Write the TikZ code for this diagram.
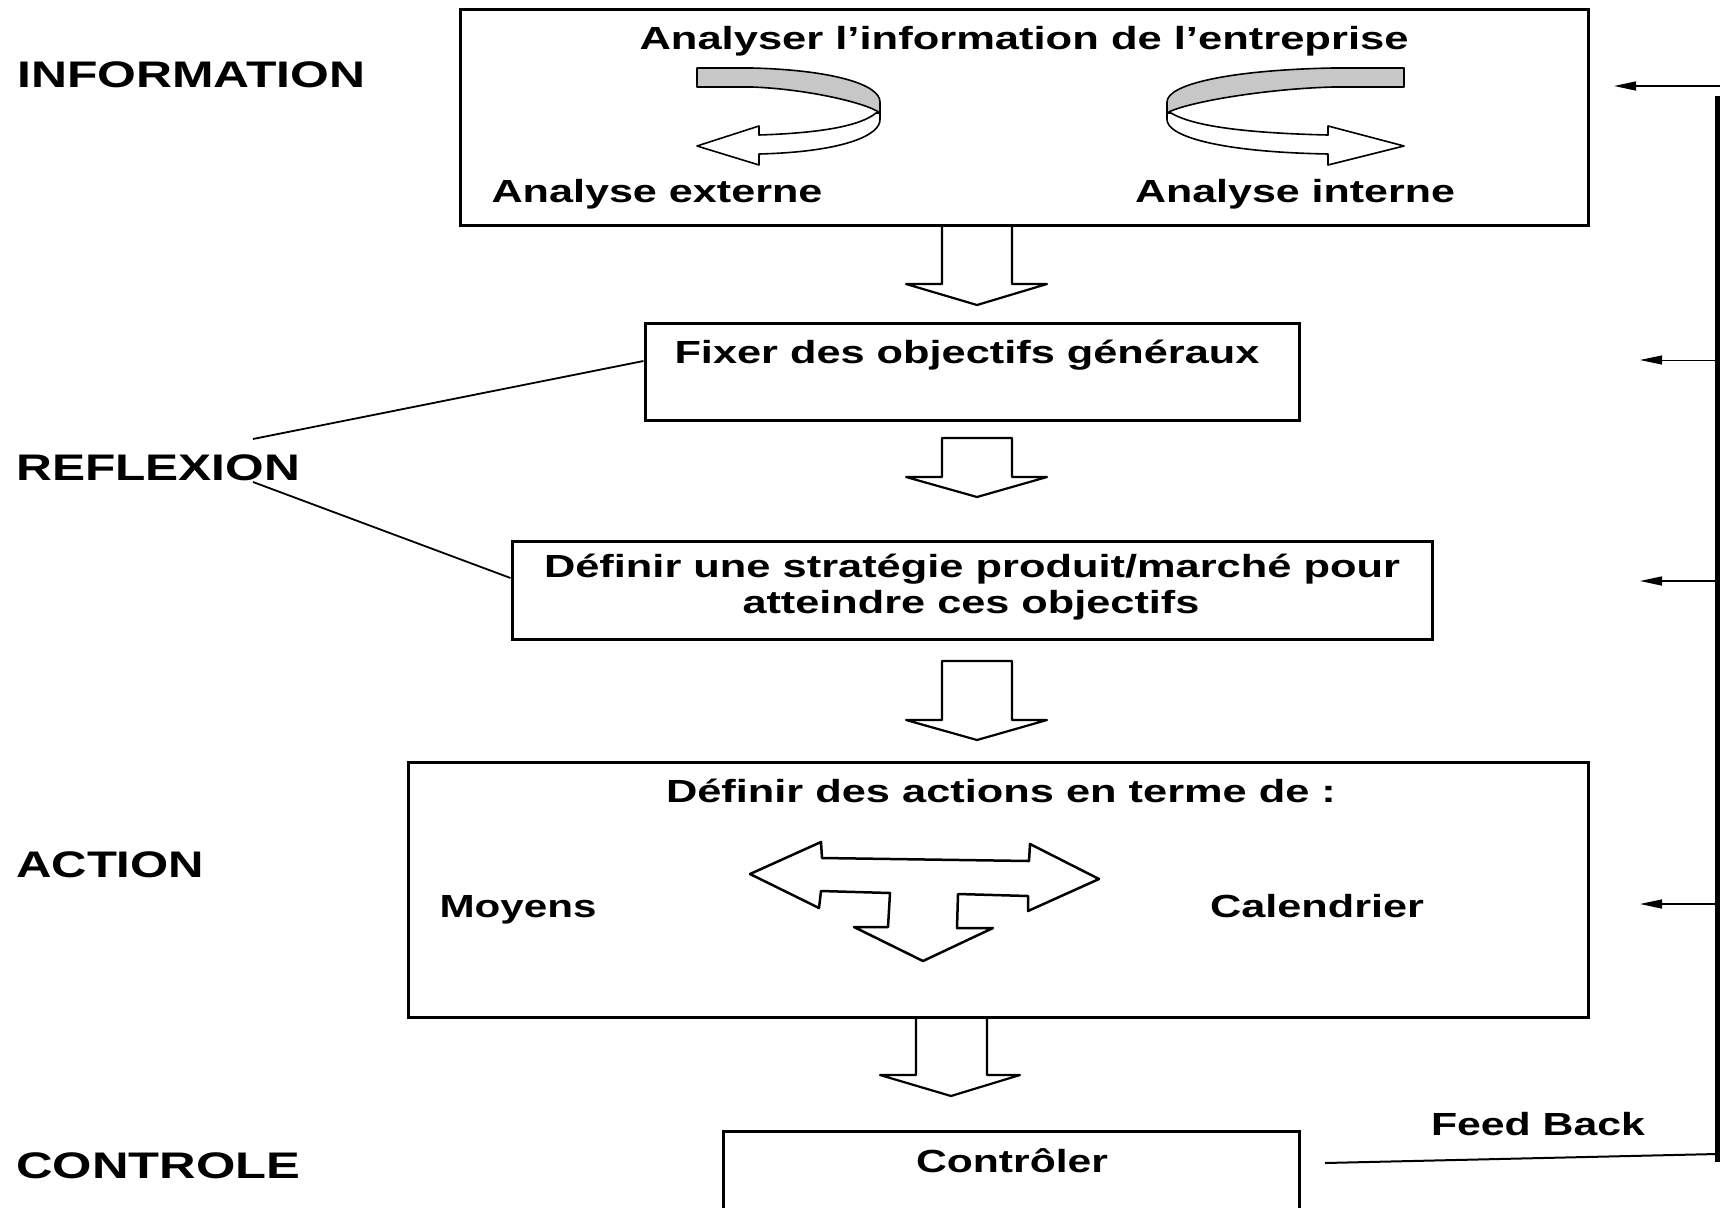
\documentclass[tikz,border=0pt]{standalone}
\usepackage{fontspec}
\setmainfont{Liberation Sans}
\usepackage{graphicx}
\usetikzlibrary{arrows.meta}

% stretch a text horizontally to a given width (in pt), keeping its height
\newsavebox\fitbox
\newlength\fitlen
\newcommand\fitto[2]{\sbox\fitbox{#2}\setlength\fitlen{\wd\fitbox}%
  \pgfmathsetmacro\fitfac{#1/\fitlen}\scalebox{\fitfac}[1]{\usebox\fitbox}}

\newcommand\btfont{\fontsize{32}{36}\selectfont\bfseries}
\newcommand\lbfont{\fontsize{37}{40}\selectfont\bfseries}

\definecolor{ribgray}{gray}{0.78}

\tikzset{
  box/.style={draw, line width=3pt, inner sep=0pt},
  btxt/.style={inner sep=0pt, anchor=base, font=\btfont},
  ltxt/.style={inner sep=0pt, anchor=base west, font=\lbfont},
  barrow/.style={draw, line width=2.2pt, line join=round},
  link/.style={line width=1.8pt},
  fbarrow/.style={line width=1.5pt, -{Triangle[length=22pt,width=9pt]}},
  ribline/.style={line width=1.6pt, line join=round},
  % twisted ribbon arrow: #1 = total length, #2 = head length
  pics/ribbon/.style 2 args={code={
    \draw[ribline, fill=ribgray] (-#1,68) -- ({-0.7*#1},68)
      .. controls ({-0.27*#1},70) and (0,84) .. (0,102) -- (0,113)
      .. controls ({-0.07*#1},103) and ({-0.4*#1},89) .. ({-0.7*#1},87)
      -- (-#1,87) -- cycle;
    \draw[ribline, fill=white] (0,113) -- (0,119)
      .. controls (1,136) and ({-0.216*#1},152) .. ({-#1+#2},154)
      -- ({-#1+#2},165) -- (-#1,146) -- ({-#1+#2},126) -- ({-#1+#2},135)
      .. controls ({-0.324*#1},133) and ({-0.108*#1},126) .. (-4,113) -- cycle;
  }},
}

\begin{document}
\begin{tikzpicture}[x=1pt,y=-1pt]
\useasboundingbox[fill=white] (0,0) rectangle (1731,1207);
\clip (0,0) rectangle (1731,1207);

% hollow block arrows between the stages
\draw[barrow] (942,225) -- (942,284) -- (906,284) -- (977,305) -- (1047,284) -- (1012,284) -- (1012,225);
\draw[barrow] (942,438) -- (942,477) -- (906,477) -- (977,497) -- (1047,477) -- (1012,477) -- (1012,438) -- cycle;
\draw[barrow] (942,661) -- (942,720) -- (906,720) -- (977,740) -- (1047,720) -- (1012,720) -- (1012,661) -- cycle;
\draw[barrow] (916,1017) -- (916,1075) -- (880,1075) -- (951,1096) -- (1020,1075) -- (987,1075) -- (987,1017);

% stage boxes
\node[box, minimum width=1128pt, minimum height=215pt] (b1) at (1024,117.5) {};
\node[box, minimum width=654pt, minimum height=97pt] (b2) at (972,371.5) {};
\node[box, minimum width=920pt, minimum height=98pt] (b3) at (972,590) {};
\node[box, minimum width=1180pt, minimum height=255pt] (b4) at (998,889.5) {};
\node[box, minimum width=576pt, minimum height=119pt] (b5) at (1011,1190.5) {};

% texts in the boxes
\node[btxt] (tInfo) at (1024,49) {\fitto{769}{Analyser l’information de l’entreprise}};
\node[btxt] (tExt) at (657,202) {\fitto{331}{Analyse externe}};
\node[btxt] (tInt) at (1295,202) {\fitto{320}{Analyse interne}};
\node[btxt] (tFix) at (967,363) {\fitto{585}{Fixer des objectifs généraux}};
\node[btxt] (tStr1) at (972,577) {\fitto{856}{Définir une stratégie produit/marché pour}};
\node[btxt] (tStr2) at (971,613) {\fitto{457}{atteindre ces objectifs}};
\node[btxt] (tAct) at (1001,802) {\fitto{670}{Définir des actions en terme de :}};
\node[btxt] (tMoy) at (518,917) {\fitto{157}{Moyens}};
\node[btxt] (tCal) at (1317,917) {\fitto{214}{Calendrier}};
\node[btxt] (tCtl) at (1012,1172) {\fitto{192}{Contrôler}};
\node[btxt] (tFb) at (1538,1135) {\fitto{214}{Feed Back}};

% stage labels
\node[ltxt] (lInfo) at (17,88) {\fitto{348}{INFORMATION}};
\node[ltxt] (lRef) at (16,480) {\fitto{284}{REFLEXION}};
\node[ltxt] (lAct) at (16,877) {\fitto{188}{ACTION}};
\node[ltxt] (lCtl) at (16,1178) {\fitto{284}{CONTROLE}};

% REFLEXION covers the two middle boxes
\coordinate (rUp) at (253,439);
\coordinate (rDn) at (253,482);
\draw[link] (rUp) -- ([yshift=10.5pt]b2.west);
\draw[link] (rDn) -- ([yshift=12pt]b3.west);

% ribbon arrows: external and internal analysis
\pic at (880,0) {ribbon={183}{62}};
\pic[xscale=-1] at (1167,0) {ribbon={237}{76}};

% three-way arrow: means / schedule
\draw[barrow, line width=2.5pt] (750,874) -- (821,842) -- (822,858) -- (1029,861) -- (1030,844)
  -- (1099,879) -- (1028,911) -- (1028,896) -- (958,894) -- (957,928) -- (993,928)
  -- (923,961) -- (854,927) -- (888,927) -- (890,893) -- (821,891) -- (819,908) -- cycle;

% feedback loop
\coordinate (fbTop) at (1717,96);
\coordinate (fbBot) at (1717,1162);
\coordinate (fbIn) at (1325,1163);
\coordinate (fbEnd) at (1717,1154);
\draw[line width=5pt] (fbTop) -- (fbBot);
\draw[line width=2pt] (fbIn) -- (fbEnd);
\coordinate (f0s) at (1720,86);   \coordinate (f0e) at (1614,86);
\coordinate (f1s) at (1715,360);  \coordinate (f1e) at (1640,360);
\coordinate (f2s) at (1715,581);  \coordinate (f2e) at (1640,581);
\coordinate (f3s) at (1715,904);  \coordinate (f3e) at (1640,904);
\draw[fbarrow] (f0s) -- (f0e);
\draw[fbarrow, line width=1pt] (f1s) -- (f1e);
\draw[fbarrow] (f2s) -- (f2e);
\draw[fbarrow] (f3s) -- (f3e);
\end{tikzpicture}
\end{document}
